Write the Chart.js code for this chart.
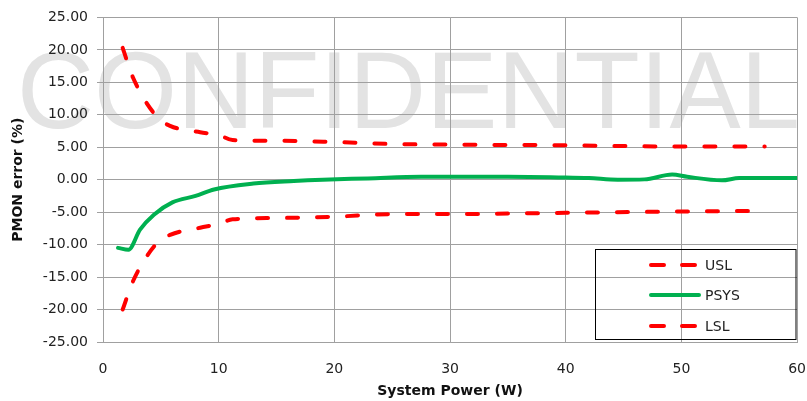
<!DOCTYPE html>
<html>
<head>
<meta charset="utf-8">
<title>PMON error</title>
<script src="https://cdn.jsdelivr.net/npm/chart.js@4.4.1/dist/chart.umd.min.js"></script>
<style>
  html, body { margin: 0; padding: 0; background: #fff; }
  #wrap { width: 807px; height: 401px; position: relative; }
</style>
</head>
<body>
<div id="wrap"><canvas id="pmonChart"></canvas></div>
<script>
// spec limits, system power (W) vs error (%)
const limitPower = [1.7, 2.6, 4.7, 5.8, 8.4, 10, 11.2, 15, 20, 25, 30, 40, 50, 57.2];
const uslValues  = [20.3, 15.7, 9.6, 8.3, 7.3, 6.9, 6.1, 6.0, 5.8, 5.5, 5.4, 5.3, 5.1, 5.1];
const lslValues  = [-20, -15.6, -9.7, -8.5, -7.4, -6.8, -6.1, -5.9, -5.7, -5.3, -5.3, -5.1, -4.9, -4.8];

// measured PSYS error
const psysPower  = [1.3, 2.2, 3.2, 4.4, 6, 8, 9.6, 13, 16.5, 19, 22.9, 27.5, 30, 35, 39.6, 42, 44.5, 46.8, 49.2, 50.5, 53.5, 55, 60];
const psysValues = [-10.5, -10.8, -7.7, -5.4, -3.5, -2.5, -1.5, -0.6, -0.2, 0.0, 0.2, 0.45, 0.45, 0.45, 0.35, 0.25, 0.0, 0.05, 0.8, 0.45, -0.1, 0.25, 0.25];

const xTicks = [0, 10, 20, 30, 40, 50, 60];
const yTicks = [-25, -20, -15, -10, -5, 0, 5, 10, 15, 20, 25];

const pts = (xs, ys) => xs.map((x, i) => ({ x: x, y: ys[i] }));

const RED = '#ff0000';
const GREEN = '#00b050';
const GRID = '#a0a0a0';
const FONT = "'DejaVu Sans', sans-serif";

// big grey stamp behind everything
const watermark = {
  id: 'watermark',
  beforeDraw(chart) {
    const ctx = chart.ctx;
    ctx.save();
    ctx.font = "109px 'Liberation Sans', Arial, sans-serif";
    ctx.fillStyle = '#e3e3e3';
    ctx.textBaseline = 'alphabetic';
    const txt = 'CONFIDENTIAL';
    const w = ctx.measureText(txt).width;
    ctx.translate(17, 128);
    ctx.scale(783 / w, 1);
    ctx.fillText(txt, 0, 0);
    ctx.restore();
  }
};

// boxed legend sitting in the lower right of the plot
const boxLegend = {
  id: 'boxLegend',
  afterDraw(chart) {
    const ctx = chart.ctx;
    const left = 595.5, top = 249.5, right = 796, bottom = 339.5;
    ctx.save();
    ctx.strokeStyle = '#000';
    ctx.lineWidth = 1;
    ctx.strokeRect(left, top, right - left, bottom - top);
    const rows = [265, 295, 326];
    rows.forEach((y, di) => {
      const ds = chart.data.datasets[di];
      ctx.strokeStyle = ds.borderColor;
      ctx.lineWidth = ds.borderWidth;
      ctx.lineCap = 'round';
      ctx.setLineDash(ds.borderDash ? [13, 18] : []);
      ctx.beginPath();
      ctx.moveTo(651, y);
      ctx.lineTo(699, y);
      ctx.stroke();
      ctx.setLineDash([]);
      ctx.fillStyle = '#222';
      ctx.font = '14px ' + FONT;
      ctx.textBaseline = 'middle';
      ctx.textAlign = 'left';
      ctx.fillText(ds.label, 705, y + 1);
    });
    ctx.restore();
  }
};

const ctx = document.getElementById('pmonChart').getContext('2d');
const pmonChart = new Chart(ctx, {
  type: 'line',
  data: {
    datasets: [
      {
        label: 'USL',
        data: pts(limitPower, uslValues),
        borderColor: RED,
        borderWidth: 4,
        borderDash: [11, 19],
        borderCapStyle: 'round',
        cubicInterpolationMode: 'monotone',
        pointRadius: 0,
        fill: false
      },
      {
        label: 'PSYS',
        data: pts(psysPower, psysValues),
        borderColor: GREEN,
        borderWidth: 4,
        borderCapStyle: 'round',
        cubicInterpolationMode: 'monotone',
        pointRadius: 0,
        fill: false
      },
      {
        label: 'LSL',
        data: pts(limitPower, lslValues),
        borderColor: RED,
        borderWidth: 4,
        borderDash: [11, 19],
        borderCapStyle: 'round',
        cubicInterpolationMode: 'monotone',
        pointRadius: 0,
        fill: false
      }
    ]
  },
  options: {
    responsive: true,
    maintainAspectRatio: false,
    animation: false,
    layout: { padding: { left: 0, right: 3, top: 16, bottom: 0 } },
    plugins: {
      legend: { display: false },
      tooltip: { enabled: false }
    },
    scales: {
      x: {
        type: 'linear',
        min: 0,
        max: 60,
        afterBuildTicks: s => { s.ticks = xTicks.map(v => ({ value: v })); },
        afterFit: s => { s.height = 59; },
        grid: { color: GRID, lineWidth: 1, drawTicks: true, tickLength: 18, tickColor: 'rgba(0,0,0,0)' },
        border: { color: GRID, width: 1 },
        ticks: {
          padding: 1,
          color: '#222',
          font: { family: FONT, size: 14 },
          callback: v => String(v)
        },
        title: {
          display: true,
          text: 'System Power (W)',
          color: '#111',
          font: { family: FONT, size: 14, weight: 'bold' },
          padding: { top: 0, bottom: 1 }
        }
      },
      y: {
        type: 'linear',
        min: -25,
        max: 25,
        afterBuildTicks: s => { s.ticks = yTicks.map(v => ({ value: v })); },
        afterFit: s => { s.width = 103; },
        grid: { color: GRID, lineWidth: 1, drawTicks: true, tickLength: 6 },
        border: { color: GRID, width: 1 },
        ticks: {
          padding: 9,
          color: '#222',
          font: { family: FONT, size: 14 },
          callback: v => v.toFixed(2)
        },
        title: {
          display: true,
          text: 'PMON error (%)',
          color: '#111',
          font: { family: FONT, size: 14, weight: 'bold' },
          padding: { top: 10, bottom: 0 }
        }
      }
    }
  },
  plugins: [watermark, boxLegend]
});
</script>
</body>
</html>
